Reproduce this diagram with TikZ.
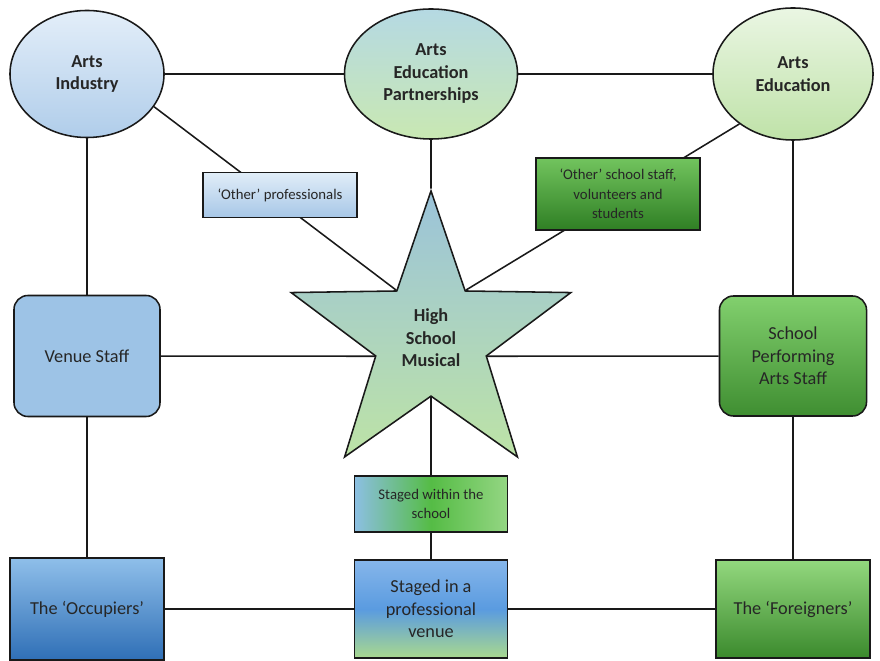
\documentclass[tikz,border=0pt]{standalone}
\usepackage{fontspec}
\setmainfont{Carlito}
\usetikzlibrary{shapes.geometric,backgrounds}

\definecolor{aiTop}{HTML}{E3EEF9}\definecolor{aiBot}{HTML}{B0CDEA}
\definecolor{aepTop}{HTML}{B5D9E3}\definecolor{aepBot}{HTML}{C9E8B2}
\definecolor{aeTop}{HTML}{EAF6E3}\definecolor{aeBot}{HTML}{BFE2A8}
\definecolor{opTop}{HTML}{E1EDF8}\definecolor{opBot}{HTML}{A7C7E7}
\definecolor{osTop}{HTML}{72C45E}\definecolor{osBot}{HTML}{2F7F24}
\definecolor{starTop}{HTML}{9BC3DA}\definecolor{starBot}{HTML}{BDE3A6}
\definecolor{vsFill}{HTML}{9DC3E6}
\definecolor{spasTop}{HTML}{82D06E}\definecolor{spasBot}{HTML}{3F8E31}
\definecolor{swsLeft}{HTML}{8CBFE2}\definecolor{swsMid}{HTML}{55BC45}\definecolor{swsRight}{HTML}{94D683}
\definecolor{occTop}{HTML}{8FBFEA}\definecolor{occBot}{HTML}{2F6FB6}
\definecolor{spvTop}{HTML}{86B6EA}\definecolor{spvMid}{HTML}{5A9BE0}\definecolor{spvBot}{HTML}{A9D98E}
\definecolor{forTop}{HTML}{93D87E}\definecolor{forBot}{HTML}{3B8A2D}

\begin{document}
\begin{tikzpicture}[x=0.025cm,y=-0.025cm,
  every node/.style={align=center,text=black!85,line width=1.1pt,draw=black!90},
  blob/.style={ellipse,font=\fontsize{13}{16}\selectfont\bfseries},
  tag/.style={rectangle,font=\fontsize{10.5}{14}\selectfont},
  panel/.style={rectangle,rounded corners=0.35cm,font=\fontsize{13}{16}\selectfont},
  block/.style={rectangle,font=\fontsize{13}{16}\selectfont},
  link/.style={line width=1.1pt,draw=black!90}]
\useasboundingbox (0,0) rectangle (880,661);
    % top row
    \node[blob,minimum width=3.85cm,minimum height=3.175cm,top color=aiTop,bottom color=aiBot] (ai) at (87,74) {Arts\\Industry};
    \node[blob,minimum width=4.325cm,minimum height=3.25cm,top color=aepTop,bottom color=aepBot] (aep) at (431,74) {Arts\\Education\\Partnerships};
    \node[blob,minimum width=4cm,minimum height=3.3cm,top color=aeTop,bottom color=aeBot] (ae) at (793,74) {Arts\\Education};
    \node[tag,minimum width=3.85cm,minimum height=1.125cm,top color=opTop,bottom color=opBot] (op) at (280,195) {`Other' professionals};
    \node[tag,minimum width=4.1cm,minimum height=1.8cm,top color=osTop,bottom color=osBot] (os) at (618,194) {`Other' school staff,\\volunteers and\\students};
    % middle row
    \node[star,star points=5,star point ratio=2.53,inner sep=0pt,minimum size=7.35cm,
          font=\fontsize{13}{16}\selectfont\bfseries,top color=starTop,bottom color=starBot] (hsm) at (431,338) {High\\School\\Musical};
    \node[panel,minimum width=3.65cm,minimum height=3.025cm,fill=vsFill] (vs) at (87,356) {Venue Staff};
    \node[panel,minimum width=3.675cm,minimum height=3cm,top color=spasTop,bottom color=spasBot] (spas) at (793,356) {School\\Performing\\Arts Staff};
    % bottom row
    \node[tag,minimum width=3.825cm,minimum height=1.4cm,left color=swsLeft,right color=swsRight,middle color=swsMid] (sws) at (431,504) {Staged within the\\school};
    \node[block,minimum width=3.85cm,minimum height=2.55cm,top color=occTop,bottom color=occBot] (occ) at (87,609) {The `Occupiers'};
    \node[block,minimum width=3.825cm,minimum height=2.45cm,top color=spvTop,bottom color=spvBot,middle color=spvMid] (spv) at (431,609) {Staged in a\\professional\\venue};
    \node[block,minimum width=3.85cm,minimum height=2.45cm,top color=forTop,bottom color=forBot] (for) at (793,609) {The `Foreigners'};
    % connectors
    \begin{scope}[on background layer]
    \draw[link] (ai) -- (aep) -- (ae);
    \draw[link] (ai) -- (vs) -- (occ);
    \draw[link] (ae) -- (spas) -- (for);
    \draw[link] (aep) -- (hsm) -- (sws) -- (spv);
    \draw[link] (occ) -- (spv) -- (for);
    \draw[link] (vs) -- (hsm.inner point 2);
    \draw[link] (hsm.inner point 4) -- (spas);
    \draw[link] (ai.-26) -- (hsm.inner point 1);
    \draw[link] (ae.223) -- (hsm.inner point 5);
    \end{scope}
\end{tikzpicture}
\end{document}
